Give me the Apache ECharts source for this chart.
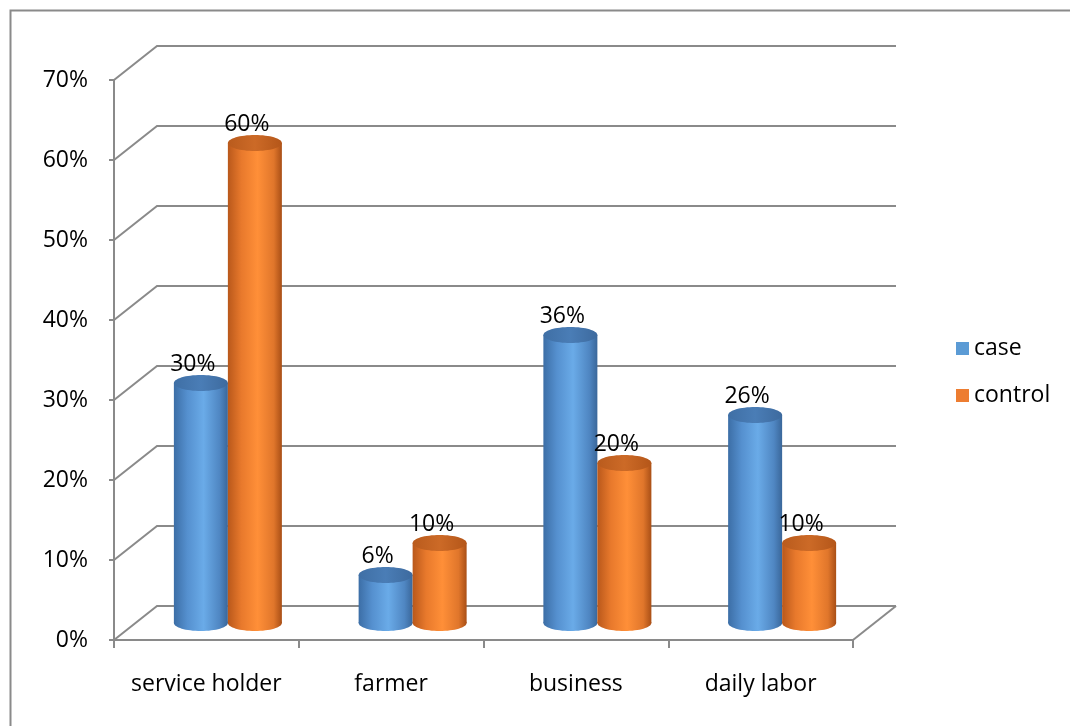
<!DOCTYPE html>
<html>
<head>
<meta charset="utf-8">
<script src="https://cdn.jsdelivr.net/npm/echarts@6/dist/echarts.min.js"></script>
<style>
  html, body { margin: 0; padding: 0; background: #ffffff; }
  #chart { width: 1070px; height: 726px; }
</style>
</head>
<body>
<div id="chart"></div>
<script>
// Occupation by group
const categories = ['service holder', 'farmer', 'business', 'daily labor'];
const caseValues = [30, 6, 36, 26];
const controlValues = [60, 10, 20, 10];
const yTicks = [0, 10, 20, 30, 40, 50, 60, 70];
const seriesNames = ['case', 'control'];

// 3D look: offset of the back wall relative to the front plane
const DX = 43, DY = -34;
const BAR_W = 54, RY = 8;
const FONT = '"Open Sans", "Noto Sans", sans-serif';
const FONT_SIZE = 23;
const GRID_COLOR = '#8a8a8a';

function bodyGradient(stops) {
  return { type: 'linear', x: 0, y: 0, x2: 1, y2: 0,
    colorStops: stops.map(function (s) { return { offset: s[0], color: s[1] }; }) };
}

const blueBody = [[0, '#3c6ea6'], [0.25, '#5590cf'], [0.55, '#6aabe8'], [0.85, '#4f86c2'], [1, '#3a679a']];
const orangeBody = [[0, '#b9581b'], [0.25, '#e8792c'], [0.55, '#ff8f38'], [0.85, '#e0762b'], [1, '#a94f16']];
const blueTop = [[0, '#3f6fa5'], [0.5, '#4a7db6'], [1, '#3d6a9e']];
const orangeTop = [[0, '#b95b1d'], [0.5, '#cc6a27'], [1, '#b45619']];

// back wall gridlines, left side wall and floor outline
function renderWall(params, api) {
  const cs = params.coordSys;
  const v = api.value(0);
  const y = api.coord([0, v])[1];
  const x0 = cs.x, x1 = cs.x + cs.width;
  const style = { stroke: GRID_COLOR, lineWidth: 2, fill: null };
  const children = [{
    type: 'polyline',
    shape: { points: [[x0, y], [x0 + DX, y + DY], [x1 + DX, y + DY]] },
    style: style
  }];
  if (v === 0) {
    children.push({ type: 'line', shape: { x1: x1, y1: y, x2: x1 + DX, y2: y + DY }, style: style });
  }
  return { type: 'group', children: children };
}

function cylinderRenderer(side, body, topStops) {
  return function (params, api) {
    const idx = api.value(0), val = api.value(1);
    const base = api.coord([idx, 0]);
    const top = api.coord([idx, val]);
    const cx = base[0] + DX / 2 + side * BAR_W / 2;
    const yb = base[1] + DY / 2, yt = top[1] + DY / 2;
    return {
      type: 'group',
      children: [
        { type: 'ellipse', shape: { cx: cx, cy: yb, rx: BAR_W / 2, ry: RY }, style: { fill: bodyGradient(body) } },
        { type: 'rect', shape: { x: cx - BAR_W / 2, y: yt, width: BAR_W, height: yb - yt }, style: { fill: bodyGradient(body) } },
        { type: 'ellipse', shape: { cx: cx, cy: yt, rx: BAR_W / 2, ry: RY }, style: { fill: bodyGradient(topStops) } },
        { type: 'text', style: { text: val + '%', x: cx - 8, y: yt - RY - 11, align: 'center', verticalAlign: 'middle',
            fontSize: FONT_SIZE, fontFamily: FONT, fill: '#000' } }
      ]
    };
  };
}

const chart = echarts.init(document.getElementById('chart'));
chart.setOption({
  animation: false,
  backgroundColor: '#ffffff',
  graphic: [{
    type: 'rect', left: 8, top: 8, shape: { width: 1080, height: 740 },
    style: { fill: null, stroke: '#8a8a8a', lineWidth: 2 }, silent: true
  }],
  grid: { left: 114, right: 217, top: 80, bottom: 86 },
  legend: {
    orient: 'vertical', left: 951, top: 332,
    icon: 'rect', itemWidth: 13, itemHeight: 13, itemGap: 24,
    textStyle: { fontSize: FONT_SIZE, fontFamily: FONT, color: '#000' },
    data: seriesNames
  },
  xAxis: {
    type: 'category', data: categories, boundaryGap: true,
    axisLine: { lineStyle: { color: GRID_COLOR, width: 2 } },
    axisTick: { show: true, interval: 0, length: 8, lineStyle: { color: GRID_COLOR, width: 2 } },
    axisLabel: { interval: 0, margin: 33, fontSize: FONT_SIZE, fontFamily: FONT, color: '#000' },
    splitLine: { show: false }
  },
  yAxis: {
    type: 'value', min: 0, max: 70, interval: 10,
    axisLine: { show: true, lineStyle: { color: GRID_COLOR, width: 2 } },
    axisTick: { show: true, length: 5, lineStyle: { color: GRID_COLOR, width: 2 } },
    axisLabel: { margin: 26, fontSize: FONT_SIZE, fontFamily: FONT, color: '#000', formatter: '{value}%' },
    splitLine: { show: false }
  },
  series: [
    { type: 'custom', name: 'wall', silent: true, z: 1, renderItem: renderWall,
      data: yTicks.map(function (t) { return [t]; }), encode: { y: 0 } },
    { type: 'custom', name: seriesNames[0], z: 3, itemStyle: { color: '#5b9bd5' },
      renderItem: cylinderRenderer(-1, blueBody, blueTop),
      data: caseValues.map(function (v, i) { return [i, v]; }), encode: { x: 0, y: 1 } },
    { type: 'custom', name: seriesNames[1], z: 4, itemStyle: { color: '#ed7d31' },
      renderItem: cylinderRenderer(1, orangeBody, orangeTop),
      data: controlValues.map(function (v, i) { return [i, v]; }), encode: { x: 0, y: 1 } }
  ]
});
</script>
</body>
</html>
